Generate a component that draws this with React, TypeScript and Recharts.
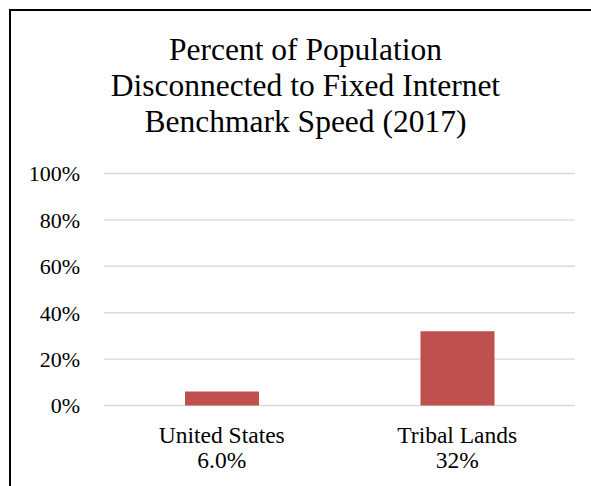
import { BarChart, Bar, XAxis, YAxis, CartesianGrid } from "recharts";

const categories = ["United States", "Tribal Lands"];
const shares = [0.06, 0.32];
const shareLabels = ["6.0%", "32%"];
const yTicks = [0, 0.2, 0.4, 0.6, 0.8, 1];

const titleLines = ["Percent of Population", "Disconnected to Fixed Internet", "Benchmark Speed (2017)"];

const data = categories.map((name, i) => ({ name, value: shares[i], label: shareLabels[i] }));

const FONT = "'Liberation Serif', 'Times New Roman', serif";

function CategoryTick(props: any) {
  const { x, y, payload, index } = props;
  return (
    <text x={x} y={y} textAnchor="middle" fill="#000" fontFamily={FONT} fontSize={23.5}>
      <tspan x={x} dy={37.5}>{payload.value}</tspan>
      <tspan x={x} dy={25}>{shareLabels[index]}</tspan>
    </text>
  );
}

export default function App() {
  return (
    <div
      style={{
        position: "fixed",
        left: 9,
        top: 9,
        width: 582,
        height: 477,
        borderLeft: "2px solid #000",
        borderTop: "2px solid #000",
        overflow: "hidden",
        background: "#fff",
      }}
    >
      <div
        style={{
          position: "absolute",
          left: 0,
          top: 21,
          width: 589,
          textAlign: "center",
          fontFamily: FONT,
          fontSize: 31.5,
          lineHeight: "36px",
          color: "#000",
        }}
      >
        {titleLines.map((t) => (
          <div key={t}>{t}</div>
        ))}
      </div>
      <div style={{ position: "absolute", left: 0, top: 139 }}>
        <BarChart width={580} height={336} data={data} margin={{ top: 23.5, right: 16, bottom: 0, left: 0 }}>
          <CartesianGrid vertical={false} stroke="#d9d9d9" strokeWidth={1.4} />
          <XAxis
            dataKey="name"
            height={80.5}
            axisLine={false}
            tickLine={false}
            tickSize={0}
            tickMargin={0}
            interval={0}
            tick={<CategoryTick />}
          />
          <YAxis
            width={93}
            domain={[0, 1]}
            ticks={yTicks}
            interval={0}
            axisLine={false}
            tickLine={false}
            tickSize={0}
            tickMargin={24}
            tickFormatter={(v: number) => `${Math.round(v * 100)}%`}
            tick={{ fill: "#000", fontFamily: FONT, fontSize: 22 }}
          />
          <Bar dataKey="value" fill="#C0504D" barSize={74} isAnimationActive={false} />
        </BarChart>
      </div>
    </div>
  );
}
